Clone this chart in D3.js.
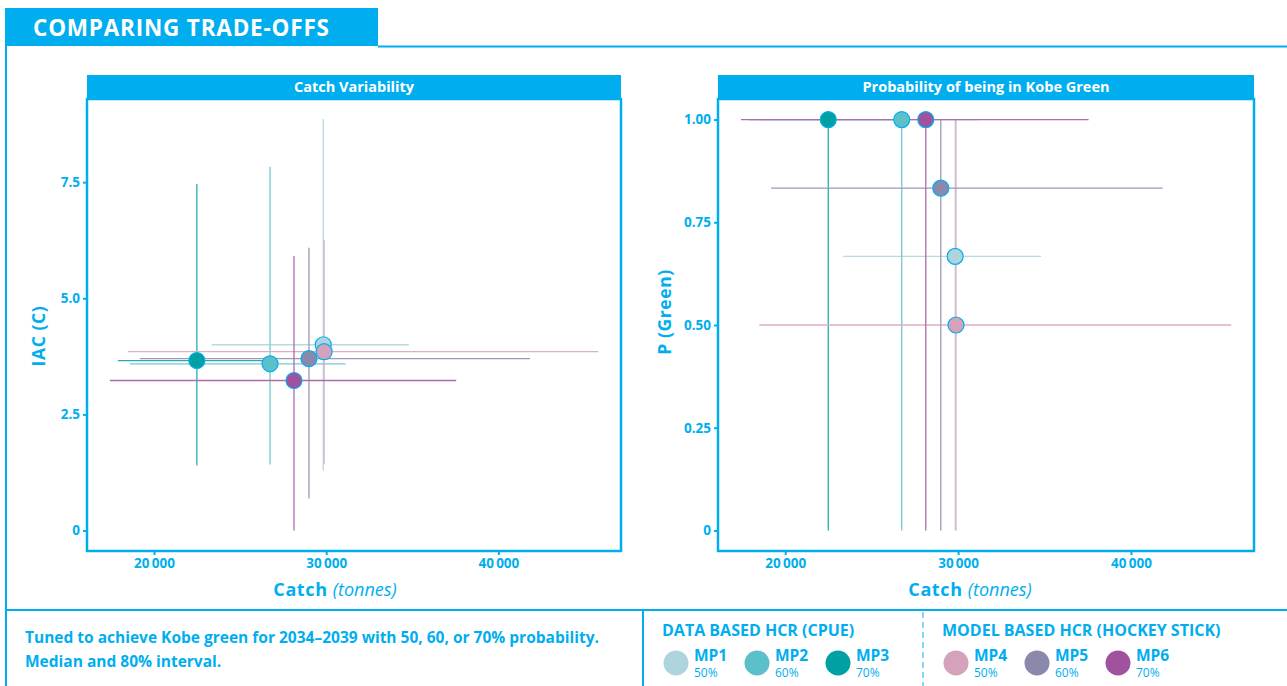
<!DOCTYPE html>
<html>
<head>
<meta charset="utf-8">
<script src="https://cdn.jsdelivr.net/npm/d3@7"></script>
<style>
  body { margin: 0; background: #fff; }
  svg { display: block; font-family: "Open Sans", "Noto Sans", sans-serif; }
</style>
</head>
<body>
<svg id="chart" width="1287" height="686"></svg>
<script>
// management procedures and their tuning levels
const mps = ['MP1', 'MP2', 'MP3', 'MP4', 'MP5', 'MP6'];
const tuning = ['50%', '60%', '70%', '50%', '60%', '70%'];
const mpColors = ['#aed4de', '#5bc0c9', '#00a0a3', '#d4a2ba', '#8a89ab', '#a0529f'];
const groupNames = ['DATA BASED HCR (CPUE)', 'MODEL BASED HCR (HOCKEY STICK)'];

// catch (tonnes): median and 80% interval
const catchMed = [29830, 26740, 22490, 29880, 29000, 28130];
const catchLo = [23350, 18600, 17900, 18500, 19180, 17440];
const catchHi = [34800, 31120, 27000, 45800, 41830, 37550];

// IAC (C)
const iacMed = [4.00, 3.59, 3.66, 3.85, 3.70, 3.23];
const iacLo = [1.29, 1.42, 1.40, 1.44, 0.69, 0.0];
const iacHi = [8.86, 7.83, 7.46, 6.26, 6.09, 5.91];

// P (Green)
const pgMed = [0.667, 1.0, 1.0, 0.5, 0.833, 1.0];
const pgLo = [0, 0, 0, 0, 0, 0];
const pgHi = [1, 1, 1, 1, 1, 1];

const catchTicks = [20000, 30000, 40000];
const iacTicks = [0, 2.5, 5.0, 7.5];
const pgTicks = [0, 0.25, 0.5, 0.75, 1.0];

const CYAN = '#00aeef';
const svg = d3.select('#chart');

const rows = mps.map((mp, i) => ({
  mp,
  color: mpColors[i],
  cMed: catchMed[i], cLo: catchLo[i], cHi: catchHi[i],
  iac: [iacLo[i], iacMed[i], iacHi[i]],
  pg: [pgLo[i], pgMed[i], pgHi[i]],
}));

// frame + title tab
svg.append('rect').attr('x', 5).attr('y', 8).attr('width', 373).attr('height', 38).attr('fill', CYAN);
svg.append('text').attr('x', 33).attr('y', 36).attr('fill', '#fff')
  .attr('font-size', 22.5).attr('font-weight', 700).attr('letter-spacing', 0.8)
  .text('COMPARING TRADE-OFFS');
svg.append('line').attr('x1', 378).attr('x2', 1287).attr('y1', 46.5).attr('y2', 46.5)
  .attr('stroke', CYAN).attr('stroke-width', 2);
svg.append('line').attr('x1', 6).attr('x2', 6).attr('y1', 8).attr('y2', 686)
  .attr('stroke', CYAN).attr('stroke-width', 2);
svg.append('line').attr('x1', 6).attr('x2', 1287).attr('y1', 610).attr('y2', 610)
  .attr('stroke', CYAN).attr('stroke-width', 2);
svg.append('line').attr('x1', 643).attr('x2', 643).attr('y1', 610).attr('y2', 686)
  .attr('stroke', CYAN).attr('stroke-width', 2);
svg.append('line').attr('x1', 923).attr('x2', 923).attr('y1', 612).attr('y2', 686)
  .attr('stroke', '#5ccbf2').attr('stroke-width', 1.5).attr('stroke-dasharray', '6,4');

function drawPanel(opts) {
  const { left, right, top, bottom, title, yDomain, yTicks, yFmt, yTitle, yKey, yTitleX, yTitleY, xTitleX } = opts;
  const g = svg.append('g');
  const x = d3.scaleLinear().domain([16110, 47120]).range([left, right]);
  const y = d3.scaleLinear().domain(yDomain).range([bottom, top]);

  // strip header
  g.append('rect').attr('x', left).attr('y', top - 24).attr('width', right - left).attr('height', 24)
    .attr('fill', CYAN);
  g.append('text').attr('x', (left + right) / 2).attr('y', top - 7).attr('text-anchor', 'middle')
    .attr('fill', '#fff').attr('font-size', 14.5).attr('font-weight', 700).text(title);

  // intervals
  const lines = g.append('g').attr('stroke-width', 1.3).attr('opacity', 0.85);
  rows.forEach((d) => {
    lines.append('line').attr('x1', x(d.cMed)).attr('x2', x(d.cMed))
      .attr('y1', y(d[yKey][0])).attr('y2', y(d[yKey][2])).attr('stroke', d.color);
    lines.append('line').attr('x1', x(d.cLo)).attr('x2', x(d.cHi))
      .attr('y1', y(d[yKey][1])).attr('y2', y(d[yKey][1])).attr('stroke', d.color);
  });
  g.selectAll('circle.pt').data(rows).join('circle').attr('class', 'pt')
    .attr('cx', (d) => x(d.cMed)).attr('cy', (d) => y(d[yKey][1])).attr('r', 8)
    .attr('fill', (d) => d.color).attr('stroke', CYAN).attr('stroke-width', 1.2);

  // panel border
  g.append('rect').attr('x', left).attr('y', top).attr('width', right - left).attr('height', bottom - top)
    .attr('fill', 'none').attr('stroke', CYAN).attr('stroke-width', 2.5);

  // axes
  const xAxis = g.append('g').attr('transform', `translate(0,${bottom})`)
    .call(d3.axisBottom(x).tickValues(catchTicks).tickSize(4).tickPadding(3)
      .tickFormat((v) => d3.format(',')(v).replace(',', '\u2009')));
  const yAxis = g.append('g').attr('transform', `translate(${left},0)`)
    .call(d3.axisLeft(y).tickValues(yTicks).tickSize(4).tickPadding(3).tickFormat(yFmt));
  [xAxis, yAxis].forEach((a) => {
    a.select('.domain').remove();
    a.selectAll('line').attr('stroke', CYAN).attr('stroke-width', 2);
    a.selectAll('text').attr('fill', CYAN).attr('font-size', 13.5).attr('font-weight', 700)
      .attr('font-family', '"Open Sans", sans-serif');
  });

  const xt = g.append('text').attr('x', xTitleX).attr('y', 596).attr('text-anchor', 'middle')
    .attr('fill', CYAN).attr('font-size', 18);
  xt.append('tspan').attr('font-weight', 700).attr('letter-spacing', 0.6).text('Catch ');
  xt.append('tspan').attr('font-style', 'italic').text('(tonnes)');

  g.append('text').attr('transform', `translate(${yTitleX},${yTitleY}) rotate(-90)`)
    .attr('text-anchor', 'middle').attr('fill', CYAN).attr('font-size', 17.5).attr('font-weight', 700)
    .attr('letter-spacing', 0.6).text(yTitle);
}

drawPanel({
  left: 87, right: 621, top: 99, bottom: 551,
  title: 'Catch Variability',
  yDomain: [-0.44, 9.29], yTicks: iacTicks,
  yFmt: (v) => (v === 0 ? '0' : d3.format('.1f')(v)),
  yTitle: 'IAC (C)', yKey: 'iac', yTitleX: 45, yTitleY: 336, xTitleX: 335,
});
drawPanel({
  left: 718, right: 1254, top: 99, bottom: 551,
  title: 'Probability of being in Kobe Green',
  yDomain: [-0.05, 1.05], yTicks: pgTicks,
  yFmt: (v) => (v === 0 ? '0' : d3.format('.2f')(v)),
  yTitle: 'P (Green)', yKey: 'pg', yTitleX: 671, yTitleY: 312, xTitleX: 970,
});

// footnote
const note = svg.append('g').attr('fill', CYAN).attr('font-size', 15.5).attr('font-weight', 700);
note.append('text').attr('x', 25).attr('y', 643)
  .text('Tuned to achieve Kobe green for 2034\u20132039 with 50, 60, or 70% probability.');
note.append('text').attr('x', 25).attr('y', 667).text('Median and 80% interval.');

// legend
const groupX = [662, 942];
groupNames.forEach((name, gi) => {
  const lg = svg.append('g');
  lg.append('text').attr('x', groupX[gi]).attr('y', 636).attr('fill', CYAN)
    .attr('font-size', 16).attr('font-weight', 700).text(name);
  d3.range(3).forEach((k) => {
    const i = gi * 3 + k;
    const cx = groupX[gi] + 14 + k * 81;
    lg.append('circle').attr('cx', cx).attr('cy', 663).attr('r', 12.5).attr('fill', mpColors[i]);
    lg.append('text').attr('x', cx + 18).attr('y', 661).attr('fill', CYAN)
      .attr('font-size', 15.5).attr('font-weight', 700).text(mps[i]);
    lg.append('text').attr('x', cx + 18).attr('y', 677).attr('fill', CYAN)
      .attr('font-size', 12).text(tuning[i]);
  });
});
</script>
</body>
</html>
